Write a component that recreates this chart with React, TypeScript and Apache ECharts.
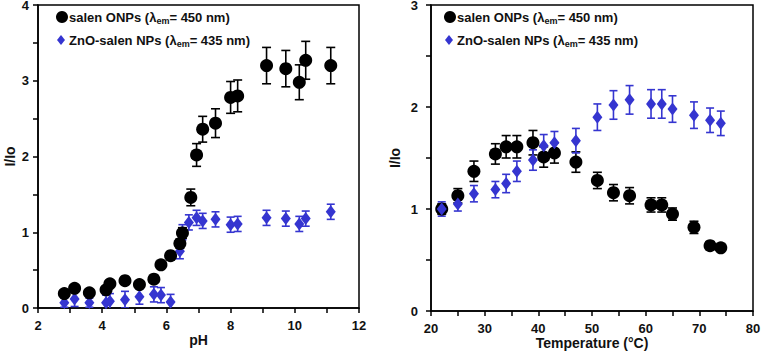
import React, { useEffect, useRef } from "react";
import * as echarts from "echarts";

// pH series
const phSalen = [2.82, 3.14, 3.6, 4.12, 4.24, 4.71, 5.16, 5.61, 5.83, 6.13, 6.42, 6.5, 6.76, 6.94, 7.13, 7.53, 8.0, 8.22, 9.12, 9.72, 10.14, 10.34, 11.12];
const phSalenVal = [0.19, 0.26, 0.2, 0.24, 0.32, 0.36, 0.31, 0.38, 0.57, 0.69, 0.85, 0.99, 1.46, 2.02, 2.36, 2.44, 2.78, 2.8, 3.2, 3.16, 2.98, 3.27, 3.2];
const phSalenErr = [0.02, 0.02, 0.02, 0.02, 0.03, 0.03, 0.02, 0.03, 0.04, 0.05, 0.06, 0.07, 0.11, 0.15, 0.17, 0.19, 0.21, 0.21, 0.24, 0.24, 0.23, 0.25, 0.24];

const phZnO = [2.82, 3.14, 3.6, 4.12, 4.24, 4.71, 5.16, 5.61, 5.83, 6.13, 6.42, 6.5, 6.7, 6.94, 7.13, 7.53, 8.0, 8.22, 9.12, 9.72, 10.14, 10.34, 11.12];
const phZnOVal = [0.07, 0.12, 0.07, 0.07, 0.09, 0.11, 0.15, 0.18, 0.17, 0.08, 0.75, 1.0, 1.13, 1.19, 1.15, 1.17, 1.1, 1.11, 1.19, 1.18, 1.11, 1.18, 1.27];
const phZnOErr = [0.06, 0.1, 0.06, 0.1, 0.1, 0.11, 0.1, 0.1, 0.1, 0.1, 0.1, 0.1, 0.1, 0.1, 0.1, 0.1, 0.1, 0.1, 0.1, 0.1, 0.1, 0.1, 0.1];

// Temperature series
const tSalen = [22, 25, 28, 32, 34, 36, 39, 41, 43, 47, 51, 54, 57, 61, 63, 65, 69, 72, 74];
const tSalenVal = [1.0, 1.13, 1.37, 1.54, 1.61, 1.61, 1.65, 1.51, 1.55, 1.46, 1.28, 1.16, 1.13, 1.04, 1.04, 0.95, 0.82, 0.64, 0.62];
const tSalenErr = [0.05, 0.07, 0.1, 0.1, 0.11, 0.11, 0.12, 0.1, 0.1, 0.1, 0.08, 0.08, 0.08, 0.07, 0.07, 0.06, 0.06, 0.04, 0.03];

const tZnO = [22, 25, 28, 32, 34, 36, 39, 41, 43, 47, 51, 54, 57, 61, 63, 65, 69, 72, 74];
const tZnOVal = [1.0, 1.05, 1.15, 1.19, 1.25, 1.37, 1.48, 1.62, 1.65, 1.67, 1.9, 2.02, 2.07, 2.03, 2.03, 1.98, 1.92, 1.87, 1.84];
const tZnOErr = [0.07, 0.07, 0.08, 0.08, 0.09, 0.1, 0.1, 0.11, 0.11, 0.12, 0.13, 0.14, 0.14, 0.14, 0.14, 0.13, 0.13, 0.12, 0.12];

const nameSalen = "salen ONPs";
const nameZnO = "ZnO-salen NPs";

const BLACK = "#000000";
const BLUE = "#3535d0";
const FONT = "'Liberation Sans', Arial, sans-serif";

const zip = (xs: number[], ys: number[], es?: number[]) =>
  xs.map((x, i) => (es ? [x, ys[i], es[i]] : [x, ys[i]]));

const isWhole = (v: number) => Math.abs(v - Math.round(v)) < 1e-6;

const errorBars = (data: number[][], color: string, gi: number, capHalf: number) => ({
  type: "custom",
  xAxisIndex: gi,
  yAxisIndex: gi,
  clip: true,
  silent: true,
  z: 2,
  data,
  renderItem: (params: any, api: any) => {
    const x = api.value(0);
    const y = api.value(1);
    const e = api.value(2);
    const top = api.coord([x, y + e]);
    const bot = api.coord([x, y - e]);
    const st = { stroke: color, lineWidth: 1.6 };
    return {
      type: "group",
      children: [
        { type: "line", shape: { x1: top[0], y1: top[1], x2: bot[0], y2: bot[1] }, style: st },
        { type: "line", shape: { x1: top[0] - capHalf, y1: top[1], x2: top[0] + capHalf, y2: top[1] }, style: st },
        { type: "line", shape: { x1: bot[0] - capHalf, y1: bot[1], x2: bot[0] + capHalf, y2: bot[1] }, style: st },
      ],
    };
  },
});

const axisCommon = {
  axisLine: { show: true, onZero: false, lineStyle: { color: BLACK, width: 1.5 } },
  axisTick: { show: true, inside: false, length: 5, lineStyle: { color: BLACK, width: 1.5 } },
  splitLine: { show: false },
  axisLabel: {
    color: "#111", fontFamily: FONT, fontWeight: "bold", fontSize: 13,
    showMinLabel: true, showMaxLabel: true, hideOverlap: false,
  },
  nameTextStyle: { color: "#111", fontFamily: FONT, fontWeight: "bold", fontSize: 14 },
  nameMoveOverlap: false,
};

const legendText = (wave: string) => `λ{sub|em}= ${wave} nm)`;

const legendGraphics = (x: number) => {
  const rich = {
    sub: { fontSize: 9, fontWeight: "bold", fontFamily: FONT, fill: "#111", padding: [7, 0, 0, 0] },
  };
  return [
    { type: "circle", shape: { cx: x, cy: 17, r: 6 }, style: { fill: BLACK } },
    {
      type: "text",
      x: x + 7,
      y: 17,
      style: {
        text: `${nameSalen} (${legendText("450")}`,
        fontFamily: FONT,
        fontWeight: "bold",
        fontSize: 13,
        fill: "#111",
        verticalAlign: "middle",
        rich,
      },
    },
    {
      type: "polygon",
      shape: { points: [[x - 1, 35], [x + 3, 40], [x - 1, 45], [x - 5, 40]] },
      style: { fill: BLUE },
    },
    {
      type: "text",
      x: x + 7,
      y: 40,
      style: {
        text: `${nameZnO} (${legendText("435")}`,
        fontFamily: FONT,
        fontWeight: "bold",
        fontSize: 13,
        fill: "#111",
        verticalAlign: "middle",
        rich,
      },
    },
  ];
};

export default function App() {
  const ref = useRef<HTMLDivElement>(null);

  useEffect(() => {
    document.body.style.margin = "0";
    if (!ref.current) return;
    const chart = echarts.init(ref.current, undefined, { renderer: "svg" });
    chart.setOption({
      animation: false,
      backgroundColor: "#ffffff",
      grid: [
        {
          left: 38, right: 402, top: 5, bottom: 43,
          outerBoundsMode: "none", containLabel: false,
          show: true, borderColor: BLACK, borderWidth: 1.5,
        },
        {
          left: 431, right: 8, top: 5, bottom: 40,
          outerBoundsMode: "none", containLabel: false,
          show: true, borderColor: BLACK, borderWidth: 1.5,
        },
      ],
      xAxis: [
        {
          ...axisCommon,
          type: "value",
          gridIndex: 0,
          min: 2,
          max: 12,
          interval: 1,
          name: "pH",
          nameLocation: "middle",
          nameGap: 25,
          axisLabel: {
            ...axisCommon.axisLabel,
            margin: 11,
            formatter: (v: number) => (Math.round(v) % 2 === 0 ? String(Math.round(v)) : ""),
          },
        },
        {
          ...axisCommon,
          type: "value",
          gridIndex: 1,
          min: 20,
          max: 80,
          interval: 5,
          name: "Temperature (°C)",
          nameLocation: "middle",
          nameGap: 25,
          axisLabel: {
            ...axisCommon.axisLabel,
            margin: 11,
            formatter: (v: number) => (Math.round(v) % 10 === 0 ? String(Math.round(v)) : ""),
          },
        },
      ],
      yAxis: [
        {
          ...axisCommon,
          type: "value",
          gridIndex: 0,
          min: 0,
          max: 4,
          interval: 0.5,
          name: "I/Io",
          nameLocation: "middle",
          nameGap: 21,
          axisLabel: {
            ...axisCommon.axisLabel,
            margin: 9,
            verticalAlign: "middle",
            formatter: (v: number) => (isWhole(v) ? String(Math.round(v)) : ""),
          },
        },
        {
          ...axisCommon,
          type: "value",
          gridIndex: 1,
          min: 0,
          max: 3,
          interval: 0.5,
          name: "I/Io",
          nameLocation: "middle",
          nameGap: 29,
          axisLabel: {
            ...axisCommon.axisLabel,
            margin: 13,
            verticalAlign: "middle",
            formatter: (v: number) => (isWhole(v) ? String(Math.round(v)) : ""),
          },
        },
      ],
      graphic: [...legendGraphics(62), ...legendGraphics(450)],
      series: [
        errorBars(zip(phZnO, phZnOVal, phZnOErr), BLUE, 0, 4),
        {
          name: nameZnO,
          type: "scatter",
          xAxisIndex: 0,
          yAxisIndex: 0,
          symbol: "diamond",
          symbolSize: [10, 13],
          itemStyle: { color: BLUE, opacity: 1 },
          z: 3,
          data: zip(phZnO, phZnOVal),
        },
        errorBars(zip(phSalen, phSalenVal, phSalenErr), BLACK, 0, 4.5),
        {
          name: nameSalen,
          type: "scatter",
          xAxisIndex: 0,
          yAxisIndex: 0,
          symbol: "circle",
          symbolSize: 13,
          itemStyle: { color: BLACK, opacity: 1 },
          z: 4,
          data: zip(phSalen, phSalenVal),
        },
        errorBars(zip(tSalen, tSalenVal, tSalenErr), BLACK, 1, 4.5),
        {
          name: nameSalen,
          type: "scatter",
          xAxisIndex: 1,
          yAxisIndex: 1,
          symbol: "circle",
          symbolSize: 13,
          itemStyle: { color: BLACK, opacity: 1 },
          z: 3,
          data: zip(tSalen, tSalenVal),
        },
        errorBars(zip(tZnO, tZnOVal, tZnOErr), BLUE, 1, 4),
        {
          name: nameZnO,
          type: "scatter",
          xAxisIndex: 1,
          yAxisIndex: 1,
          symbol: "diamond",
          symbolSize: [10, 13],
          itemStyle: { color: BLUE, opacity: 1 },
          z: 4,
          data: zip(tZnO, tZnOVal),
        },
      ],
    });
    return () => chart.dispose();
  }, []);

  return (
    <div
      ref={ref}
      style={{ position: "absolute", left: 0, top: 0, width: 761, height: 351, background: "#fff" }}
    />
  );
}
